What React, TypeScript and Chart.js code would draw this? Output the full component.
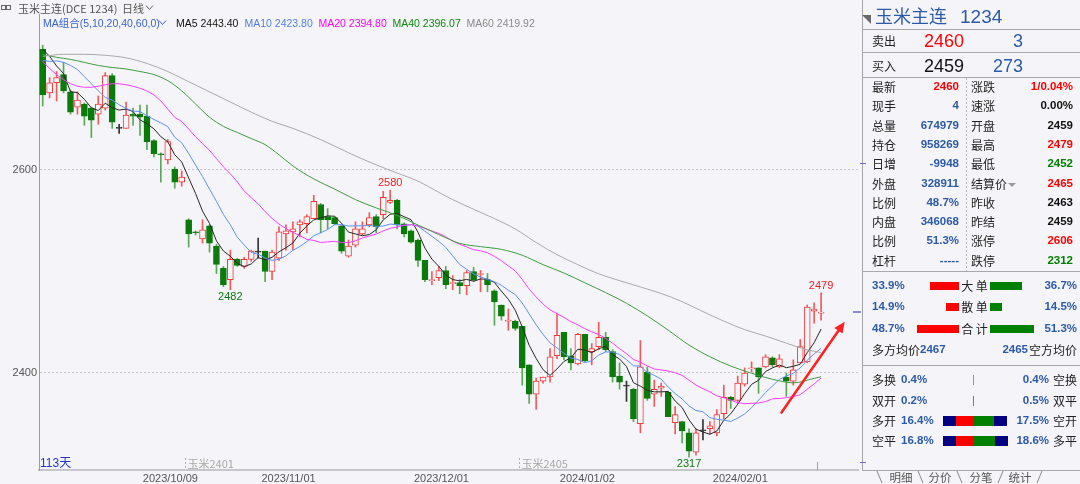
import React, { useEffect, useRef } from 'react';
import { Chart, registerables } from 'chart.js';
Chart.register(...registerables);

// ---------- chart data ----------
const opens = [2719,2676,2686,2694,2677,2662,2665,2661,2655,2661,2693,2641,2641,2655,2655,2653,2629,2616,2610,2601,2588,2551,2539,2532,2545,2525,2503,2492,2512,2505,2512,2519,2520,2500,2513,2537,2539,2546,2547,2552,2566,2554,2553,2545,2515,2526,2537,2546,2554,2556,2568,2570,2547,2540,2531,2511,2491,2494,2501,2488,2489,2486,2500,2497,2492,2481,2467,2451,2451,2446,2408,2379,2392,2396,2417,2440,2417,2409,2438,2421,2426,2435,2421,2397,2387,2384,2350,2401,2379,2385,2381,2351,2352,2341,2322,2343,2345,2341,2360,2376,2373,2389,2404,2405,2406,2415,2406,2396,2392,2410,2411,2461,2459];
const highs = [2723,2691,2697,2706,2679,2677,2666,2662,2673,2696,2695,2645,2667,2661,2664,2664,2630,2617,2630,2603,2599,2552,2540,2551,2546,2527,2505,2521,2513,2514,2521,2533,2520,2521,2544,2546,2549,2551,2556,2575,2567,2562,2554,2546,2531,2549,2549,2558,2556,2579,2580,2571,2548,2541,2532,2511,2500,2505,2505,2496,2492,2501,2504,2501,2498,2482,2467,2463,2452,2446,2408,2395,2396,2424,2459,2440,2424,2439,2438,2429,2450,2440,2423,2410,2392,2385,2432,2406,2393,2390,2382,2367,2352,2345,2345,2354,2352,2364,2388,2377,2397,2405,2411,2405,2418,2416,2418,2400,2413,2433,2467,2469,2479];
const lows = [2663,2671,2668,2676,2655,2655,2644,2632,2645,2659,2641,2636,2641,2644,2634,2620,2613,2588,2606,2582,2584,2524,2536,2528,2519,2498,2485,2482,2505,2503,2510,2513,2490,2492,2511,2521,2521,2534,2538,2552,2538,2542,2546,2518,2514,2524,2536,2544,2538,2552,2567,2542,2534,2528,2505,2490,2487,2491,2483,2482,2478,2477,2490,2480,2480,2447,2452,2442,2442,2388,2370,2364,2390,2391,2414,2413,2403,2408,2411,2408,2423,2421,2391,2384,2372,2352,2341,2373,2367,2377,2357,2340,2331,2317,2319,2334,2340,2338,2355,2365,2370,2387,2401,2380,2405,2406,2405,2377,2388,2410,2410,2449,2452];
const closes = [2674,2686,2691,2678,2657,2669,2653,2649,2665,2693,2647,2641,2654,2653,2652,2628,2616,2615,2628,2588,2593,2537,2538,2541,2528,2507,2487,2512,2506,2512,2520,2519,2500,2519,2539,2540,2542,2549,2554,2569,2551,2551,2547,2520,2525,2542,2542,2553,2544,2573,2570,2546,2537,2529,2511,2492,2492,2501,2487,2489,2486,2499,2492,2498,2487,2470,2456,2452,2444,2405,2379,2392,2396,2416,2437,2416,2410,2438,2412,2424,2435,2423,2396,2391,2387,2355,2406,2375,2384,2387,2357,2359,2343,2323,2341,2343,2348,2359,2376,2373,2390,2400,2405,2396,2416,2408,2414,2392,2403,2426,2465,2463,2460];

const ma5 = [2719,2712,2702.5,2695,2677.2,2676.2,2669.6,2661.2,2658.6,2665.8,2661.4,2659,2660,2657.6,2649.4,2645.6,2640.6,2632.8,2627.8,2615,2608,2592.2,2576.8,2559.4,2547.4,2530.2,2520.2,2515,2508,2504.8,2507.4,2513.8,2511.4,2514,2519.4,2523.4,2528,2537.8,2544.8,2550.8,2553,2554.8,2554.4,2547.6,2538.8,2537,2535.2,2536.4,2541.2,2550.8,2556.4,2557.2,2554,2551,2538.6,2523,2512.2,2505,2496.6,2492,2490.8,2492.2,2490.4,2492.6,2492.4,2489.2,2480.6,2472.6,2461.8,2445.4,2427.2,2414.4,2403.2,2397.6,2404,2411.4,2415,2423.4,2422.6,2420,2423.8,2426.4,2418,2413.8,2406.4,2390.4,2387,2382.8,2381.4,2381.4,2381.8,2372.4,2366,2353.8,2344.6,2341.8,2339.6,2342.8,2353.4,2359.8,2369.2,2379.6,2388.8,2392.8,2401.4,2405,2407.8,2405.2,2406.6,2408.6,2420,2429.8,2443.4];
const ma10 = [2708,2707,2707.5,2706,2703,2699,2692,2685,2678,2671.5,2668.8,2664.3,2660.6,2658.1,2657.6,2653.5,2649.8,2646.4,2642.7,2632.2,2626.8,2616.4,2604.8,2593.6,2581.2,2569.1,2556.2,2545.9,2533.7,2526.1,2518.8,2517,2513.2,2511,2512.1,2515.4,2520.9,2524.6,2529.4,2535.1,2538.2,2541.4,2546.1,2546.2,2544.8,2545,2545,2545.4,2544.4,2544.8,2546.7,2546.2,2545.2,2546.1,2544.7,2539.7,2534.7,2529.5,2523.8,2515.3,2506.9,2502.2,2497.7,2494.6,2492.2,2490,2486.4,2481.5,2477.2,2468.9,2458.2,2447.5,2437.9,2429.7,2424.7,2419.3,2414.7,2413.3,2410.1,2412,2417.6,2420.7,2420.7,2418.2,2413.2,2407.1,2406.7,2400.4,2397.6,2393.9,2386.1,2379.7,2374.4,2367.6,2363,2361.8,2356,2354.4,2353.6,2352.2,2355.5,2359.6,2365.8,2373.1,2380.6,2387.1,2393.7,2397,2399.7,2405,2412.5,2418.8,2424.3];
const ma20 = [2707,2700,2694,2689,2685,2682.5,2681.5,2681.5,2682.5,2684,2685,2685,2684,2682.5,2680.5,2678,2674,2668,2660,2651.9,2647.8,2640.4,2632.7,2625.9,2619.4,2611.3,2603,2596.2,2588.2,2579.2,2572.8,2566.7,2559,2552.3,2546.7,2542.3,2538.6,2535.3,2531.6,2530.6,2528.5,2529.2,2529.7,2528.6,2528.5,2530.2,2533,2535,2536.9,2540,2542.5,2543.8,2545.7,2546.2,2544.8,2542.4,2539.9,2537.5,2534.1,2530.1,2526.8,2524.2,2521.5,2520.4,2518.5,2514.9,2510.6,2505.5,2500.5,2492.1,2482.6,2474.9,2467.8,2462.2,2458.5,2454.7,2450.6,2447.4,2443.7,2440.5,2437.9,2434.1,2429.3,2424,2419,2413.2,2410.7,2406.9,2403.9,2403,2401.9,2400.2,2397.6,2392.9,2388.1,2384.5,2381.4,2377.4,2375.6,2373.1,2370.8,2369.7,2370.1,2370.4,2371.8,2374.5,2374.9,2375.7,2376.7,2378.6,2384,2389.2,2395.1];
const ma40Idx = [0,2,4,6,8,10,12,14,16,18,20,22,24,26,28,30,32,34,36,39,42,45,48,51,54,57,60,63,66,69,72,75,78,81,84,87,90,93,96,99,102,105,108,111,112];
const ma40Val = [2714,2711,2709,2706,2703,2701,2699.5,2697,2694,2688,2678,2665,2652,2643,2637,2631,2625,2615,2604,2591.2,2581.2,2570.8,2562.6,2555.3,2545.7,2536.4,2527.7,2524.5,2521.8,2516,2506.7,2498.5,2488.9,2479.2,2468.7,2456.2,2442.2,2427.5,2416,2406.8,2399.7,2393.8,2390.3,2394.7,2396.3];
const ma60Idx = [0,3,6,9,12,15,18,21,24,27,30,33,36,40,44,48,51,54,57,59,62,65,68,71,74,77,80,83,86,89,92,95,98,101,104,107,110,112];
const ma60Val = [2712,2714,2714,2713,2710.5,2705,2697,2687,2677,2667,2657,2648,2641,2630,2617,2605,2597,2589,2578,2570.8,2561.3,2552.1,2541.9,2528.5,2516.6,2506.7,2497.7,2491,2484.7,2478.3,2470.3,2460.5,2451.1,2442.7,2436.4,2429.4,2422.8,2420.1];

const dateIdx = [18, 35, 57, 78, 100];
const dateLabels = ['2023/10/09', '2023/11/01', '2023/12/01', '2024/01/02', '2024/02/01'];
const yTicks = [2400, 2600];
const extremes = [
  { i: 50, v: 2580, hi: true },
  { i: 27, v: 2482, hi: false },
  { i: 93, v: 2317, hi: false },
  { i: 112, v: 2479, hi: true },
];
const rolls = [
  { i: 20.5, label: '玉米2401' },
  { i: 68.5, label: '玉米2405' },
];
const lastPrice = 2460;
const arrowFrom = [106.3, 2361];
const arrowTo = [115.4, 2450.5];

const maLegend = [
  { t: 'MA5 2443.40', c: '#111111' },
  { t: 'MA10 2423.80', c: '#4f7fe6' },
  { t: 'MA20 2394.80', c: '#ff00ff' },
  { t: 'MA40 2396.07', c: '#0a8a0a' },
  { t: 'MA60 2419.92', c: '#8a8a8a' },
];

// ---------- side panel data ----------
const quoteLeft = [
  ['最新', '2460', 'r'], ['现手', '4', 'b'], ['总量', '674979', 'b'], ['持仓', '958269', 'b'], ['日增', '-9948', 'b'],
  ['外盘', '328911', 'b'], ['比例', '48.7%', 'b'], ['内盘', '346068', 'b'], ['比例', '51.3%', 'b'], ['杠杆', '-----', 'b'],
];
const quoteRight = [
  ['涨跌', '1/0.04%', 'r'], ['速涨', '0.00%', 'k'], ['开盘', '2459', 'k'], ['最高', '2479', 'r'], ['最低', '2452', 'g'],
  ['结算价', '2465', 'r'], ['昨收', '2463', 'k'], ['昨结', '2459', 'k'], ['涨停', '2606', 'r'], ['跌停', '2312', 'g'],
];
const flowNames = ['大 单', '散 单', '合 计'];
const flowBuy = [33.9, 14.9, 48.7];
const flowSell = [36.7, 14.5, 51.3];
const posRows = [
  ['多换', '0.4%', '0.4%', '空换'],
  ['双开', '0.2%', '0.5%', '双平'],
  ['多开', '16.4%', '17.5%', '空开'],
  ['空平', '16.8%', '18.6%', '多平'],
];
const tabs = ['明细', '分价', '分笔', '统计'];

// ---------- styles ----------
const BG = '#f5f5f9';
const RED = '#ff0000';
const GREEN = '#008000';
const BLUE = '#2b5aa8';
const BLACK = '#111111';
const SANS = '"Liberation Sans", Arial, "Noto Sans CJK SC", sans-serif';
const CJK = '"Noto Sans CJK SC", "Liberation Sans", sans-serif';
const colorOf = (k: string) => (k === 'r' ? RED : k === 'g' ? GREEN : k === 'b' ? BLUE : BLACK);

const UP = '#f03a3a';
const UP_WICK = '#f25a5a';
const DN = '#0a7a0a';
const DN_WICK = '#58a858';
const FLAT = '#333333';

function Txt(p: any) {
  const a = p.a || 'left';
  const tx = a === 'left' ? '0' : a === 'right' ? '-100%' : '-50%';
  return (
    <div
      style={{
        position: 'absolute',
        left: p.x,
        top: p.y,
        transform: `translate(${tx}, -50%)`,
        color: p.c || '#222',
        fontSize: p.s || 12,
        fontWeight: p.b ? 700 : 400,
        fontFamily: p.f || SANS,
        whiteSpace: 'nowrap',
        lineHeight: 1,
      }}
    >
      {p.t}
    </div>
  );
}

const annotPlugin = {
  id: 'annot',
  afterDatasetsDraw(chart: any) {
    const { ctx, chartArea } = chart;
    const xs = chart.scales.x;
    const ys = chart.scales.y;
    ctx.save();
    // high / low labels
    ctx.font = '11px "Liberation Sans", Arial, sans-serif';
    ctx.textAlign = 'center';
    ctx.textBaseline = 'middle';
    extremes.forEach((e) => {
      const px = xs.getPixelForValue(e.i);
      const py = ys.getPixelForValue(e.v);
      ctx.fillStyle = e.hi ? '#f02020' : '#0a7a0a';
      ctx.fillText(String(e.v), px, e.hi ? py - 7 : py + 7);
    });
    // contract roll markers
    ctx.textAlign = 'left';
    rolls.forEach((r) => {
      const px = Math.round(xs.getPixelForValue(r.i)) + 0.5;
      ctx.strokeStyle = '#b0b0b0';
      ctx.lineWidth = 1;
      ctx.setLineDash([2, 2]);
      ctx.beginPath();
      ctx.moveTo(px, chartArea.bottom - 12);
      ctx.lineTo(px, chartArea.bottom);
      ctx.stroke();
      ctx.setLineDash([]);
      ctx.fillStyle = '#a8a8a8';
      ctx.font = '11px "Noto Sans CJK SC", sans-serif';
      ctx.fillText(r.label, px + 2, chartArea.bottom - 6);
    });
    // number of days
    ctx.fillStyle = '#2438c8';
    ctx.font = '12px "Liberation Sans", "Noto Sans CJK SC", sans-serif';
    ctx.fillText(`${closes.length}天`, chartArea.left + 1, chartArea.bottom - 6);
    // small tick at the bottom right
    ctx.strokeStyle = '#a0a0a0';
    ctx.lineWidth = 1;
    ctx.beginPath();
    ctx.moveTo(817.5, chartArea.bottom - 8);
    ctx.lineTo(817.5, chartArea.bottom);
    ctx.stroke();
    // arrow
    const ax1 = xs.getPixelForValue(arrowFrom[0]);
    const ay1 = ys.getPixelForValue(arrowFrom[1]);
    const ax2 = xs.getPixelForValue(arrowTo[0]);
    const ay2 = ys.getPixelForValue(arrowTo[1]);
    const ang = Math.atan2(ay2 - ay1, ax2 - ax1);
    const hl = 11;
    const hw = 5;
    const bx = ax2 - hl * Math.cos(ang);
    const by = ay2 - hl * Math.sin(ang);
    ctx.strokeStyle = '#ff2020';
    ctx.fillStyle = '#ff2020';
    ctx.lineWidth = 2.5;
    ctx.lineCap = 'round';
    ctx.beginPath();
    ctx.moveTo(ax1, ay1);
    ctx.lineTo(bx, by);
    ctx.stroke();
    ctx.beginPath();
    ctx.moveTo(ax2, ay2);
    ctx.lineTo(bx + hw * Math.sin(ang), by - hw * Math.cos(ang));
    ctx.lineTo(bx - hw * Math.sin(ang), by + hw * Math.cos(ang));
    ctx.closePath();
    ctx.fill();
    // last price marker
    const lp = Math.round(ys.getPixelForValue(lastPrice));
    ctx.strokeStyle = '#8c8cd8';
    ctx.lineWidth = 2;
    ctx.lineCap = 'butt';
    ctx.beginPath();
    ctx.moveTo(chartArea.right - 5, lp);
    ctx.lineTo(chartArea.right + 3, lp);
    ctx.stroke();
    ctx.restore();
  },
};

export default function App() {
  const ref = useRef<HTMLCanvasElement>(null);

  useEffect(() => {
    const idx = closes.map((_, i) => i);
    const kind = (i: number) => (closes[i] > opens[i] ? 1 : closes[i] < opens[i] ? -1 : 0);
    const line = (data: any[], color: string, width = 1, smooth = false) => ({
      type: 'line',
      data,
      borderColor: color,
      borderWidth: width,
      pointRadius: 0,
      tension: 0,
      cubicInterpolationMode: smooth ? 'monotone' : 'default',
      order: 1,
    });
    const chart = new Chart(ref.current as HTMLCanvasElement, {
      type: 'bar',
      data: {
        datasets: [
          {
            type: 'bar',
            data: idx.map((i) => ({ x: i, y: [lows[i], highs[i]] })),
            backgroundColor: idx.map((i) => (kind(i) > 0 ? UP_WICK : kind(i) < 0 ? DN_WICK : FLAT)),
            borderWidth: 0,
            barThickness: 1,
            maxBarThickness: 1,
            barPercentage: 1,
            categoryPercentage: 1,
            grouped: false,
            order: 3,
          },
          {
            type: 'bar',
            data: idx.map((i) => ({ x: i, y: [opens[i], closes[i]] })),
            backgroundColor: idx.map((i) => (kind(i) > 0 ? BG : kind(i) < 0 ? DN : FLAT)),
            borderColor: idx.map((i) => (kind(i) > 0 ? UP : kind(i) < 0 ? DN : FLAT)),
            borderWidth: 1,
            borderSkipped: false,
            barThickness: 6,
            maxBarThickness: 6,
            barPercentage: 1,
            categoryPercentage: 1,
            minBarLength: 1,
            grouped: false,
            order: 2,
          },
          line(ma60Idx.map((x, k) => ({ x, y: ma60Val[k] })), '#a9a9a9', 1, true),
          line(ma40Idx.map((x, k) => ({ x, y: ma40Val[k] })), '#3f9a3f', 1, true),
          line(idx.map((i) => ({ x: i, y: ma20[i] })), '#ff3cff'),
          line(idx.map((i) => ({ x: i, y: ma10[i] })), '#5f8ff0'),
          line(idx.map((i) => ({ x: i, y: ma5[i] })), '#262626'),
        ] as any,
      },
      options: {
        animation: false,
        responsive: false,
        events: [],
        layout: { padding: { top: 14, right: 4, left: 0, bottom: 0 } },
        plugins: { legend: { display: false }, tooltip: { enabled: false } },
        scales: {
          x: {
            type: 'linear',
            min: -0.532,
            max: 117.31,
            offset: false,
            bounds: 'data',
            grid: { display: false, drawTicks: false },
            border: { display: true, color: '#c6c6cc', width: 2 },
            afterBuildTicks: (axis: any) => {
              axis.ticks = dateIdx.map((v) => ({ value: v }));
            },
            afterFit: (axis: any) => {
              axis.height = 14;
            },
            ticks: {
              autoSkip: false,
              maxRotation: 0,
              padding: 2,
              labelOffset: 2.6,
              color: '#555555',
              font: { size: 11, family: '"Liberation Sans", Arial, sans-serif' },
              callback: (v: any) => {
                const k = dateIdx.indexOf(Number(v));
                return k >= 0 ? dateLabels[k] : '';
              },
            },
          },
          y: {
            type: 'linear',
            min: 2304.4,
            max: 2753.7,
            bounds: 'data',
            afterBuildTicks: (axis: any) => {
              axis.ticks = yTicks.map((v) => ({ value: v }));
            },
            afterFit: (axis: any) => {
              axis.width = 39;
            },
            grid: { color: '#c8c8cc', lineWidth: 1, drawTicks: false },
            border: { display: true, color: '#9c9ca0', width: 1, dash: [2, 2] },
            ticks: {
              padding: 2,
              color: '#555555',
              font: { size: 11, family: '"Liberation Sans", Arial, sans-serif' },
              callback: (v: any) => String(v),
            },
          },
        },
      } as any,
      plugins: [annotPlugin],
    } as any);
    return () => chart.destroy();
  }, []);

  const legendX = [176, 244.5, 318.5, 392.5, 466.5];
  const rowY = (k: number) => 87 + 19.3 * k;
  const flowY = [285.5, 307, 328.5];
  const posY = [380, 400.5, 420.5, 440.5];
  const tabX = [901, 940, 981, 1020];

  return (
    <div
      style={{
        position: 'fixed',
        left: 0,
        top: 0,
        width: 1080,
        height: 484,
        background: BG,
        overflow: 'hidden',
      }}
    >
      <canvas ref={ref} width={862} height={484} style={{ position: 'absolute', left: 0, top: 0, width: 862, height: 484 }} />

      {/* header row */}
      <div style={{ position: 'absolute', left: 1, top: 5, width: 3, height: 3, border: '1px solid #666' }} />
      <div style={{ position: 'absolute', left: 6, top: 5, width: 3, height: 3, border: '1px solid #666' }} />
      <Txt x={18} y={7.5} t="玉米主连(DCE 1234)" c="#555" s={11} f={CJK} />
      <Txt x={122} y={7.5} t="日线" c="#555" s={11} f={CJK} />
      <svg style={{ position: 'absolute', left: 0, top: 0 }} width={1080} height={484}>
        <polyline points="146,5.5 149.5,9.5 153,5.5" fill="none" stroke="#666" strokeWidth={1} />
        <polyline points="159,20.5 162.5,24.5 166,20.5" fill="none" stroke="#3a62d8" strokeWidth={1} />
        {/* side panel frame */}
        <line x1={862.5} y1={0} x2={862.5} y2={470} stroke="#a4a4a8" strokeWidth={1} />
        {[29.5, 52.5, 77.5, 271.5, 365.5, 470.5].map((y) => (
          <line key={y} x1={862} y1={y} x2={1080} y2={y} stroke="#a8a8ac" strokeWidth={1} />
        ))}
        <line x1={966.5} y1={78} x2={966.5} y2={271} stroke="#b8b8bc" strokeWidth={1} strokeDasharray="2,2" />
        <polygon points="862,15 871,15 871,24" fill="#6a6a6a" />
        <polygon points="1008,183 1016,183 1012,187" fill="#9a9a9a" />
        {/* tabs */}
        <line x1={877} y1={471} x2={882} y2={483} stroke="#888" strokeWidth={1} />
        <line x1={918} y1={471} x2={923} y2={483} stroke="#888" strokeWidth={1} />
        <line x1={957} y1={471} x2={962} y2={483} stroke="#888" strokeWidth={1} />
        <line x1={1003} y1={471} x2={998} y2={483} stroke="#888" strokeWidth={1} />
        <line x1={1042} y1={471} x2={1037} y2={483} stroke="#888" strokeWidth={1} />
        {/* small side markers */}
        <line x1={860} y1={163.5} x2={866} y2={163.5} stroke="#6b6bcf" strokeWidth={1} />
        <line x1={860} y1={462.5} x2={866} y2={462.5} stroke="#6b6bcf" strokeWidth={1} />
      </svg>

      {/* MA legend */}
      <Txt x={43} y={23} t="MA组合(5,10,20,40,60,0)" c="#3a62d8" s={10.5} f={SANS} />
      {maLegend.map((m, k) => (
        <Txt key={m.t} x={legendX[k]} y={23} t={m.t} c={m.c} s={10.5} f={SANS} />
      ))}

      {/* side panel: title & order book */}
      <Txt x={875} y={15} t="玉米主连" c={BLUE} s={18} f={CJK} />
      <Txt x={960} y={15.5} t="1234" c={BLUE} s={19} f={SANS} />
      <Txt x={872} y={40.5} t="卖出" c="#222" s={12} f={CJK} />
      <Txt x={964} y={40.5} t="2460" c={RED} s={18} a="right" />
      <Txt x={1023} y={40.5} t="3" c={BLUE} s={18} a="right" />
      <Txt x={872} y={65.5} t="买入" c="#222" s={12} f={CJK} />
      <Txt x={964} y={65.5} t="2459" c={BLACK} s={18} a="right" />
      <Txt x={1023} y={65.5} t="273" c={BLUE} s={18} a="right" />

      {quoteLeft.map((r, k) => (
        <React.Fragment key={'l' + k}>
          <Txt x={872} y={rowY(k)} t={r[0]} c="#222" s={12} f={CJK} />
          <Txt x={959} y={rowY(k)} t={r[1]} c={colorOf(r[2])} s={11.5} b a="right" />
        </React.Fragment>
      ))}
      {quoteRight.map((r, k) => (
        <React.Fragment key={'r' + k}>
          <Txt x={971} y={rowY(k)} t={r[0]} c="#222" s={12} f={CJK} />
          <Txt x={1073} y={rowY(k)} t={r[1]} c={colorOf(r[2])} s={11.5} b a="right" />
        </React.Fragment>
      ))}

      {/* big / small order flow */}
      {flowNames.map((n, k) => (
        <React.Fragment key={n}>
          <Txt x={872} y={flowY[k]} t={flowBuy[k].toFixed(1) + '%'} c={BLUE} s={11.5} b />
          <div
            style={{
              position: 'absolute',
              left: 959 - flowBuy[k] * 0.86,
              top: flowY[k] - 4,
              width: flowBuy[k] * 0.86,
              height: 8,
              background: '#ff0000',
            }}
          />
          <Txt x={974.5} y={flowY[k]} t={n} c="#222" s={12} f={CJK} a="center" />
          <div
            style={{
              position: 'absolute',
              left: 990,
              top: flowY[k] - 4,
              width: flowSell[k] * 0.86,
              height: 8,
              background: '#008000',
            }}
          />
          <Txt x={1077} y={flowY[k]} t={flowSell[k].toFixed(1) + '%'} c={BLUE} s={11.5} b a="right" />
        </React.Fragment>
      ))}
      <Txt x={872} y={349.5} t="多方均价" c="#222" s={12} f={CJK} />
      <Txt x={920} y={349.5} t="2467" c={BLUE} s={11.5} b />
      <Txt x={1028} y={349.5} t="2465" c={BLUE} s={11.5} b a="right" />
      <Txt x={1077} y={349.5} t="空方均价" c="#222" s={12} f={CJK} a="right" />

      {/* position change rows */}
      {posRows.map((r, k) => (
        <React.Fragment key={'p' + k}>
          <Txt x={872} y={posY[k]} t={r[0]} c="#222" s={12} f={CJK} />
          <Txt x={901} y={posY[k]} t={r[1]} c={BLUE} s={11.5} b />
          <Txt x={1049} y={posY[k]} t={r[2]} c={BLUE} s={11.5} b a="right" />
          <Txt x={1077} y={posY[k]} t={r[3]} c="#222" s={12} f={CJK} a="right" />
        </React.Fragment>
      ))}
      <div style={{ position: 'absolute', left: 973, top: 375, width: 1, height: 10, background: '#f07070' }} />
      <div style={{ position: 'absolute', left: 973, top: 395.5, width: 1, height: 10, background: '#7070e0' }} />
      {[415.5, 435.5].map((t, k) => (
        <React.Fragment key={'bar' + k}>
          <div style={{ position: 'absolute', left: 943, top: t, width: 13, height: 10, background: '#000080' }} />
          <div style={{ position: 'absolute', left: 956, top: t, width: 18, height: 10, background: '#ff0000' }} />
          <div style={{ position: 'absolute', left: 974, top: t, width: k ? 21 : 20, height: 10, background: '#008000' }} />
          <div style={{ position: 'absolute', left: k ? 995 : 994, top: t, width: 13, height: 10, background: '#000080' }} />
        </React.Fragment>
      ))}

      {tabs.map((t, k) => (
        <Txt key={t} x={tabX[k]} y={477.5} t={t} c="#555" s={11.5} f={CJK} a="center" />
      ))}
    </div>
  );
}
